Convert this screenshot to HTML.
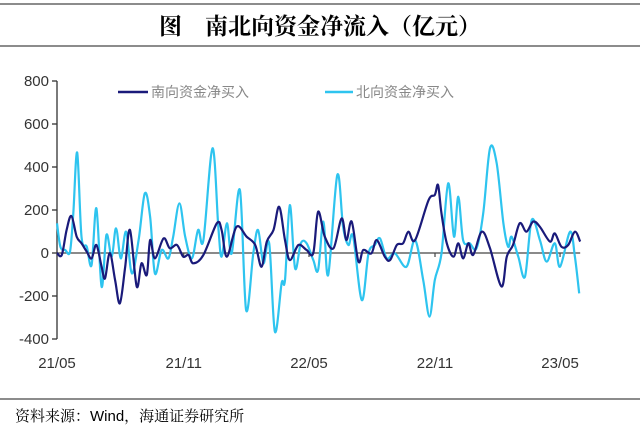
<!DOCTYPE html>
<html><head><meta charset="utf-8"><style>
html,body{margin:0;padding:0;background:#fff;}
#wrap{position:relative;width:640px;height:430px;overflow:hidden;font-family:"Liberation Sans","Noto Sans CJK SC",sans-serif;}
</style></head><body>
<div id="wrap">
<svg id="svg" width="640" height="430">
<line x1="0" y1="4" x2="640" y2="4" stroke="#666" stroke-width="1.5"/>
<line x1="0" y1="46" x2="640" y2="46" stroke="#666" stroke-width="1.5"/>
<text x="320" y="34" text-anchor="middle" font-size="23" font-weight="bold" font-family="'Noto Serif CJK SC','Noto Sans CJK SC',serif" fill="#000">图　南北向资金净流入（亿元）</text>
<line x1="0" y1="399" x2="640" y2="399" stroke="#666" stroke-width="1.5"/>
<text x="15" y="421" font-size="15" fill="#000" font-family="'Liberation Sans','Noto Serif CJK SC',sans-serif">资料来源：Wind，海通证券研究所</text>
<g id="axes"></g>
<g id="series"></g>
<g>
<line x1="118" y1="92" x2="148" y2="92" stroke="#1a1a7a" stroke-width="2.5"/>
<text x="151" y="97" font-size="14" fill="#888">南向资金净买入</text>
<line x1="325" y1="92" x2="353" y2="92" stroke="#2ec4ef" stroke-width="2.5"/>
<text x="356" y="97" font-size="14" fill="#888">北向资金净买入</text>
</g>
</svg>
</div>
<script>
const yTicks=[800,600,400,200,0,-200,-400];
const xTickLabels=["21/05","21/11","22/05","22/11","23/05"];
const xTickWeeks=[0,26.4,52.5,78.75,104.8];
const southWeeks=[0,1,2,3,4.1,5.1,6.2,7.2,8.2,9.3,10,11,12.1,13.1,14.2,15.2,16.6,17.6,18.7,19.4,20.4,22.2,23.5,25,26.3,27.4,28.4,30.5,33.3,34.3,35.4,37.4,39.5,41.3,42.6,43.7,45.1,46.3,47.5,48.5,50.3,52,53.4,54.4,55.8,57.6,59.3,60.3,61.4,62.8,63.8,65.5,66.6,68.3,69.4,70.8,72.1,73.2,74.6,77.4,78.7,79.4,80.1,81.2,82.6,83.6,84.6,85.7,86.7,88.5,90.2,92.6,93.7,95,96.4,97.8,99.2,100.6,102.7,103.7,105.1,106.5,107.9,109];
const southValues=[0,-9,107,172,76,45,6,-25,37,-64,-118,0,-126,-234,-64,107,-156,-48,-102,60,-25,68,22,37,-17,-9,-48,-9,138,107,-17,122,76,37,-64,53,107,215,60,-33,37,14,0,192,76,22,161,60,146,-40,14,-2,60,-17,-33,37,45,99,60,245,270,316,184,45,-17,45,-25,45,-9,99,22,-156,-17,37,138,99,146,122,53,91,29,37,99,53];
const northWeeks=[0,0.7,1.7,2.7,3.4,4.2,5.1,6.2,7.2,8.2,9.3,10.3,11.4,12.3,13.3,14.4,15.6,17,18.3,19.4,20.4,21.8,23.2,24.2,25.5,26.7,28.1,29.4,30.5,32.4,33.6,34.3,35.4,36.4,38.1,39.4,40.9,41.9,43,44.2,45.4,46.8,47.5,48.5,49.6,50.8,52,53.4,54.4,55.5,56.5,58.4,59.6,60.7,61.7,63.5,64.9,66.2,67.3,68.7,70.4,72.8,74.6,76.3,77.6,78.7,80.1,81.5,82.7,83.6,84.6,86,87.4,88.8,90.2,91.6,93,94,94.7,96.1,97.5,98.9,100.6,102,103.7,104.8,106.9,107.9,108.8];
const northValues=[138,29,14,6,184,467,76,29,-56,208,-157,84,-17,115,-25,99,-95,60,277,169,-95,14,-25,76,231,76,-25,107,60,487,122,-17,138,-2,293,-265,-2,107,-48,45,-366,-141,-126,223,-71,45,45,-33,-79,146,-102,363,122,37,76,-219,-2,37,68,-25,-2,-64,60,-126,-296,-126,-2,324,76,262,60,45,22,184,487,417,138,29,76,-17,-110,153,60,-40,45,-64,99,-17,-188];

const NS='http://www.w3.org/2000/svg';
const x0=57,pxPerWeek=4.8,yZero=253,pxPer200=43;
const xs=w=>x0+w*pxPerWeek;
const ys=v=>yZero-v/200*pxPer200;
function mk(tag,attrs,parent){const e=document.createElementNS(NS,tag);for(const k in attrs)e.setAttribute(k,attrs[k]);parent.appendChild(e);return e;}
const axes=document.getElementById('axes');
const yAxis=mk('line',{x1:x0,y1:ys(800),x2:x0,y2:ys(-400),stroke:'#333','stroke-width':1.3},axes);


yTicks.forEach(t=>{
  const tk=mk('line',{x1:x0-5,y1:ys(t),x2:x0,y2:ys(t),stroke:'#333','stroke-width':1.3},axes);
  
  
  const lb=mk('text',{x:x0-8,y:ys(t)+5,'text-anchor':'end','font-size':15,fill:'#333'},axes);
  lb.textContent=t;
  
  
});
const zl=mk('line',{x1:x0,y1:ys(0),x2:xs(109),y2:ys(0),stroke:'#444','stroke-width':1.3},axes);


xTickLabels.forEach((l,i)=>{
  const tk=mk('line',{x1:xs(xTickWeeks[i]),y1:ys(0),x2:xs(xTickWeeks[i]),y2:ys(0)+4,stroke:'#444','stroke-width':1.2},axes);
  
  
  const lb=mk('text',{x:xs(xTickWeeks[i]),y:368,'text-anchor':'middle','font-size':15,fill:'#333'},axes);
  lb.textContent=l;
  
  
});
function smoothPath(wk,vals){
  const p=wk.map((w,i)=>[xs(w),ys(vals[i])]);
  let d='M'+p[0][0]+','+p[0][1];
  for(let i=0;i<p.length-1;i++){
    const a=p[i-1]||p[i],b=p[i],c=p[i+1],e=p[i+2]||c;
    const c1=[b[0]+(c[0]-a[0])/6,b[1]+(c[1]-a[1])/6];
    const c2=[c[0]-(e[0]-b[0])/6,c[1]-(e[1]-b[1])/6];
    d+=' C'+c1[0].toFixed(1)+','+c1[1].toFixed(1)+' '+c2[0].toFixed(1)+','+c2[1].toFixed(1)+' '+c[0].toFixed(1)+','+c[1].toFixed(1);
  }
  return d;
}
const sg=document.getElementById('series');
const nl=mk('path',{d:smoothPath(northWeeks,northValues),fill:'none',stroke:'#2ec4ef','stroke-width':2.2,'stroke-linejoin':'round'},sg);


const sl=mk('path',{d:smoothPath(southWeeks,southValues),fill:'none',stroke:'#1a1a7a','stroke-width':2.2,'stroke-linejoin':'round'},sg);


</script>
</body></html>
